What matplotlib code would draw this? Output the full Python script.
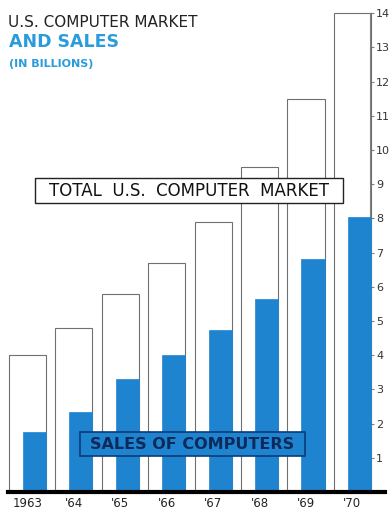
import matplotlib.pyplot as plt
from matplotlib.patches import Rectangle

# data (billions of dollars)
years = ['1963', "'64", "'65", "'66", "'67", "'68", "'69", "'70"]
total_market = [4.0, 4.8, 5.8, 6.7, 7.9, 9.5, 11.5, 14.0]
sales = [1.75, 2.35, 3.3, 4.0, 4.75, 5.65, 6.8, 8.05]
yticks = list(range(1, 15))

blue = '#1f84d0'
title_blue = '#2a9cdb'

fig = plt.figure(figsize=(3.9, 5.13), dpi=100)
ax = fig.add_axes([0, 0, 1, 1])

x = list(range(len(years)))
xs = [i + 0.15 for i in x]

# total market outlines, then sales bars on top
ax.bar(x, total_market, width=0.8, color='white', edgecolor='#707070', linewidth=0.8, zorder=2)
ax.bar(xs, sales, width=0.5, color=blue, edgecolor=blue, linewidth=0.5, zorder=3)

ax.set_xlim(-0.593, 7.81)
ax.set_ylim(-0.614, 14.386)

# baseline
for s in ['top', 'left']:
    ax.spines[s].set_visible(False)
ax.spines['bottom'].set_position(('data', 0))
ax.spines['bottom'].set_linewidth(3)
ax.spines['bottom'].set_color('black')
ax.spines['bottom'].set_bounds(-0.42, 7.7)
ax.spines['bottom'].set_zorder(5)

# value axis on the right
ax.spines['right'].set_position(('data', 7.38))
ax.spines['right'].set_bounds(0, 14)
ax.spines['right'].set_color('#808080')
ax.spines['right'].set_linewidth(0.8)
ax.yaxis.tick_right()
ax.set_yticks(yticks)
ax.set_yticklabels([str(t) for t in yticks], fontsize=8, family='Liberation Sans Narrow',
                   color='#333333')
ax.tick_params(axis='y', direction='out', length=3, width=0.8, color='#808080', pad=1.5)

ax.set_xticks(x)
ax.set_xticklabels(years, fontsize=8.5, family='Liberation Sans Narrow', color='#222222')
ax.tick_params(axis='x', length=0, pad=3.5)
ax.set_facecolor('white')

# title
fig.text(8 / 390, 1 - 27 / 513, 'U.S. COMPUTER MARKET', fontsize=11, color='#222222',
         ha='left', va='baseline')
fig.text(9 / 390, 1 - 47 / 513, 'AND SALES', fontsize=12.5, color=title_blue,
         fontweight='bold', ha='left', va='baseline')
fig.text(9 / 390, 1 - 67 / 513, '(IN BILLIONS)', fontsize=8, color=title_blue,
         fontweight='bold', family='Liberation Sans Narrow', ha='left', va='baseline')

# labels
ax.add_patch(Rectangle((0.16, 8.45), 6.64, 0.73, facecolor='white', edgecolor='#222222',
                       linewidth=1, zorder=6))
ax.text(3.48, 8.8, 'TOTAL  U.S.  COMPUTER  MARKET', fontsize=12, color='#111111',
        ha='center', va='center', zorder=7)

ax.add_patch(Rectangle((1.13, 1.05), 4.85, 0.7, facecolor=blue, edgecolor='#0b3a78',
                       linewidth=1.2, zorder=6))
ax.text(3.55, 1.4, 'SALES OF COMPUTERS', fontsize=11.5, color='#0c2a5c', fontweight='bold',
        family='Liberation Sans Narrow', ha='center', va='center', zorder=7)

fig.savefig('out.png', dpi=100)
